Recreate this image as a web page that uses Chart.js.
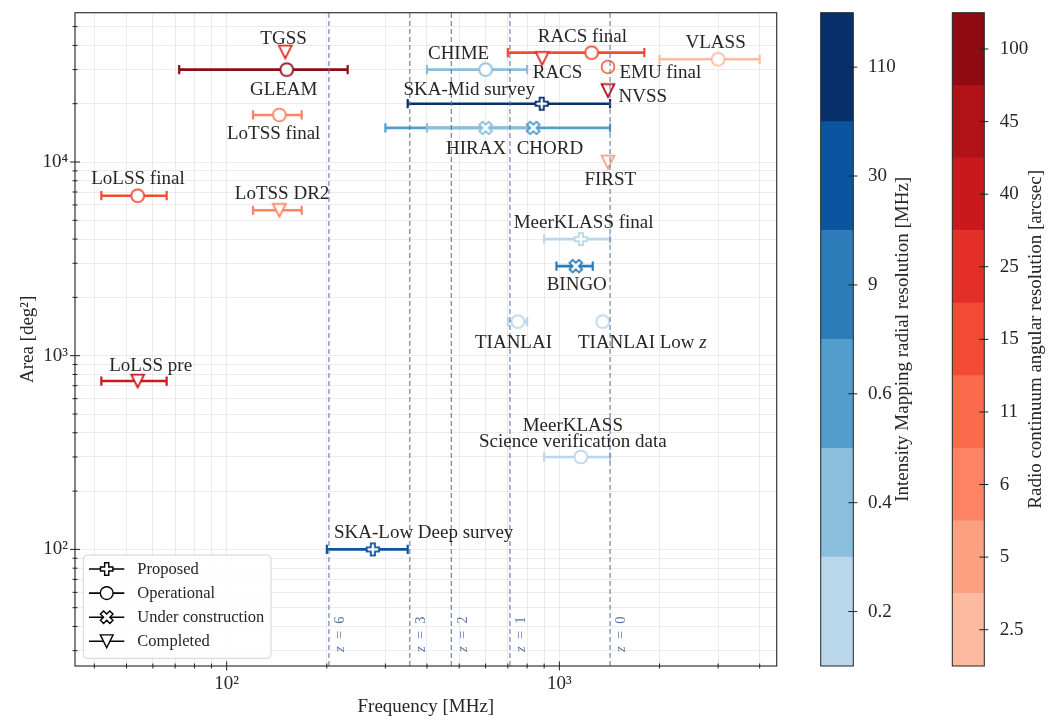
<!DOCTYPE html>
<html>
<head>
<meta charset="utf-8">
<script src="https://cdn.jsdelivr.net/npm/chart.js@4.4.1/dist/chart.umd.min.js"></script>
<style>
  html, body { margin: 0; padding: 0; background: #fff; }
  #wrap { position: relative; width: 1049px; height: 720px; }
  canvas { position: absolute; top: 0; }
</style>
</head>
<body>
<div id="wrap">
  <canvas id="main" width="800" height="720" style="left:0"></canvas>
  <canvas id="cbIM" width="130" height="720" style="left:800px"></canvas>
  <canvas id="cbRC" width="119" height="720" style="left:930px"></canvas>
</div>
<script>
// ---- data -----------------------------------------------------------------
const surveyNames = ['GLEAM','TGSS','LoTSS final','LoTSS DR2','LoLSS final','LoLSS pre','RACS final','RACS',
  'EMU final','NVSS','FIRST','VLASS',
  'CHIME','SKA-Mid survey','HIRAX','CHORD','MeerKLASS final','BINGO','TIANLAI','TIANLAI Low *z*',
  'MeerKLASS\nScience verification data','SKA-Low Deep survey'];
const freqMid  = [151.5, 150, 144, 144, 54, 54, 1250, 887.5, 1400, 1400, 1400, 3000,
  600, 885, 600, 835, 1160, 1120, 750, 1350, 1160, 275];
const freqLow  = [72, null, 120, 120, 42, 42, 700, null, null, null, null, 2000,
  400, 350, 400, 300, 900, 980, 700, null, 900, 200];
const freqHigh = [231, null, 168, 168, 66, 66, 1800, null, null, null, null, 4000,
  800, 1420, 800, 1420, 1420, 1260, 800, null, 1420, 350];
const areaDeg2 = [30000, 37000, 17500, 5634, 6700, 740, 36700, 34240, 31000, 23400, 10000, 33900,
  30000, 20000, 15000, 15000, 4000, 2900, 1500, 1500, 300, 100];
const surveyStatus = ['operational','completed','operational','completed','operational','completed','operational','completed',
  'operational','completed','completed','operational',
  'operational','proposed','construction','construction','proposed','construction','operational','operational',
  'operational','proposed'];
const surveyKind = ['rc','rc','rc','rc','rc','rc','rc','rc','rc','rc','rc','rc',
  'im','im','im','im','im','im','im','im','im','im'];
const surveyRes = ['100','25','6','6','15','40','15','25','11','45','5','2.5',
  '0.4','110','0.4','0.6','0.2','9','0.2','0.2','0.2','30'];

// redshift guide lines (21cm line)
const zRedshift = [6, 3, 2, 1, 0];
const zFreq = [202.9, 355.1, 473.5, 710.2, 1420.4];

// colour bars (bottom -> top)
const imLabels = ['0.2','0.4','0.6','9','30','110'];
const imColors = ['#bad6eb','#89bedc','#539ecd','#2c7cba','#0b55a0','#08306b'];
const rcLabels = ['2.5','5','6','11','15','25','40','45','100'];
const rcColors = ['#fcbba1','#fca082','#fc8464','#fb6a4a','#f24a35','#e32f27','#cb181d','#b11218','#8e0b13'];

// axis ticks
const xMajorTicks = [100, 1000];
const xMajorLabels = ['10\u00b2', '10\u00b3'];
const yMajorTicks = [100, 1000, 10000];
const yMajorLabels = ['10\u00b2', '10\u00b3', '10\u2074'];

const legendLabels = ['Proposed','Operational','Under construction','Completed'];
const legendShapes = ['plus','circle','x','tri'];

// ---- layout (label placement relative to marker, px) ----------------------
const labelDx = [-3, -1.7, -5.7, 2.7, 0.3, 13, -9.3, 15.4, 52.3, 34.9, 2.3, -2.5,
  -27, -72.5, -9.5, 16.6, 2.8, 1, -4.3, 39.6, -8, 50.8];
const labelDy = [25, -8.4, 24.5, -11.7, -12, -10.3, -10.6, 20, 11.6, 11.6, 23.3, -11,
  -10.7, -8.3, 26.6, 26.6, -10.7, 24, 26, 26, -10, -11];

const SERIF = "'Liberation Serif', 'Times New Roman', serif";
const TXT = '#262626';
const shapeOf = { proposed: 'plus', operational: 'circle', construction: 'x', completed: 'tri' };

function colorOf(i){
  return surveyKind[i] === 'im'
    ? imColors[imLabels.indexOf(surveyRes[i])]
    : rcColors[rcLabels.indexOf(surveyRes[i])];
}

function minorTicks(lo, hi){
  const out = [];
  for (let d = 1; d < 1e6; d *= 10)
    for (let m = 1; m < 10; m++){ const v = m * d; if (v > lo && v < hi) out.push(v); }
  return out;
}
const xTickValues = minorTicks(35, 4500);
const yTickValues = minorTicks(25, 59000);

// marker glyphs, roughly matplotlib's P, o, X, v (white face)
function shapePath(g, shape, s){
  g.beginPath();
  let pts = null;
  if (shape === 'circle') { g.arc(0, 0, s, 0, 2 * Math.PI); }
  else if (shape === 'plus') {
    const a = s / 3;
    pts = [[-a,-s],[a,-s],[a,-a],[s,-a],[s,a],[a,a],[a,s],[-a,s],[-a,a],[-s,a],[-s,-a],[-a,-a]];
  } else if (shape === 'x') {
    const u = s / 2;
    pts = [[-1,-2],[0,-1],[1,-2],[2,-1],[1,0],[2,1],[1,2],[0,1],[-1,2],[-2,1],[-1,0],[-2,-1]].map(p => [p[0]*u, p[1]*u]);
  } else if (shape === 'tri') {
    pts = [[-s,-s],[s,-s],[0,s]];
  }
  if (pts){ g.moveTo(pts[0][0], pts[0][1]); pts.slice(1).forEach(p => g.lineTo(p[0], p[1])); g.closePath(); }
}
const SIZE = { circle: 6.4, plus: 6.2, x: 6.3, tri: 6.4 };
function markerCanvas(shape, color){
  const c = document.createElement('canvas');
  c.width = c.height = 20;
  const g = c.getContext('2d');
  g.translate(10, 10);
  shapePath(g, shape, SIZE[shape]);
  g.fillStyle = '#fff'; g.fill();
  g.lineWidth = 1.8; g.strokeStyle = color; g.lineJoin = 'miter'; g.stroke();
  return c;
}

function drawRich(ctx, text, x, y, size, align){
  const parts = text.split('*');
  const fonts = parts.map((p, k) => (k % 2 ? 'italic ' : '') + size + 'px ' + SERIF);
  let w = 0;
  parts.forEach((p, k) => { ctx.font = fonts[k]; w += ctx.measureText(p).width; });
  let cx = align === 'left' ? x : x - w / 2;
  ctx.textAlign = 'left';
  parts.forEach((p, k) => { ctx.font = fonts[k]; ctx.fillText(p, cx, y); cx += ctx.measureText(p).width; });
}

const isDecade = v => Math.abs(Math.log10(v) - Math.round(Math.log10(v))) < 1e-9;

// fixed axis boxes: no label overhang padding so the plot area matches the reference
function fixBox(size){
  return s => {
    if (s.isHorizontal()) s.height = size; else s.width = size;
    s.paddingTop = 0; s.paddingBottom = 0; s.paddingLeft = 0; s.paddingRight = 0;
  };
}

// ---- main chart -----------------------------------------------------------
const datasets = [];
zFreq.forEach(f => datasets.push({
  type: 'line', data: [{x: f, y: 25}, {x: f, y: 59000}],
  borderColor: 'rgba(88,112,160,0.8)', borderWidth: 1.3, borderDash: [5, 3],
  pointRadius: 0, showLine: true, order: -1
}));
surveyNames.forEach((n, i) => {
  if (freqLow[i] == null) return;
  const col = colorOf(i);
  datasets.push({
    type: 'line', showLine: true, order: 2,
    data: [{x: freqLow[i], y: areaDeg2[i]}, {x: freqHigh[i], y: areaDeg2[i]}],
    borderColor: col, borderWidth: 2.6,
    pointStyle: 'line', pointRotation: 90, pointRadius: 4.6,
    pointBorderColor: col, pointBorderWidth: 2.2
  });
});
datasets.push({
  type: 'scatter', order: 0,
  data: surveyNames.map((n, i) => ({x: freqMid[i], y: areaDeg2[i]})),
  pointStyle: surveyNames.map((n, i) => markerCanvas(shapeOf[surveyStatus[i]], colorOf(i))),
  pointRadius: 6
});

const mainDecor = {
  id: 'mainDecor',
  afterDatasetsDraw(chart){
    const {ctx, scales: {x, y}} = chart;
    ctx.save();
    // survey labels
    ctx.fillStyle = TXT; ctx.textBaseline = 'alphabetic';
    surveyNames.forEach((n, i) => {
      const px = x.getPixelForValue(freqMid[i]) + labelDx[i];
      const py = y.getPixelForValue(areaDeg2[i]) + labelDy[i];
      const lines = n.split('\n');
      lines.forEach((ln, k) => drawRich(ctx, ln, px, py - (lines.length - 1 - k) * 16, 19, 'center'));
    });
    // redshift labels
    ctx.fillStyle = '#5b78aa'; ctx.textBaseline = 'middle';
    zFreq.forEach((f, i) => {
      ctx.save();
      ctx.translate(x.getPixelForValue(f) + 11.5, 652);
      ctx.rotate(-Math.PI / 2);
      drawRich(ctx, '*z*\u2002=\u2002' + zRedshift[i], 0, 0, 14.5, 'left');
      ctx.restore();
    });
    ctx.restore();
  },
  afterDraw(chart){
    const {ctx, chartArea: a, scales: {x, y}} = chart;
    ctx.save();
    ctx.strokeStyle = '#333'; ctx.lineWidth = 1.2;
    ctx.strokeRect(a.left, a.top, a.right - a.left, a.bottom - a.top);
    ctx.lineWidth = 1; ctx.strokeStyle = '#222';
    ctx.beginPath();
    x.ticks.forEach(t => {
      const px = x.getPixelForValue(t.value), L = isDecade(t.value) ? 4.5 : 2.5;
      ctx.moveTo(px, a.bottom - L); ctx.lineTo(px, a.bottom + L);
    });
    y.ticks.forEach(t => {
      const py = y.getPixelForValue(t.value), L = isDecade(t.value) ? 5 : 2.5;
      ctx.moveTo(a.left - L, py); ctx.lineTo(a.left + L, py);
    });
    ctx.stroke();
    // legend
    const bx = 83.3, by = 555, bw = 187.7, bh = 103.3;
    ctx.beginPath(); ctx.roundRect(bx, by, bw, bh, 4);
    ctx.fillStyle = 'rgba(255,255,255,0.85)'; ctx.fill();
    ctx.strokeStyle = '#d4d4d4'; ctx.lineWidth = 1; ctx.stroke();
    legendLabels.forEach((lab, k) => {
      const ry = 569 + k * 24.1;
      ctx.beginPath(); ctx.moveTo(89, ry); ctx.lineTo(124.3, ry);
      ctx.strokeStyle = '#000'; ctx.lineWidth = 1.6; ctx.stroke();
      ctx.save(); ctx.translate(106.7, ry);
      shapePath(ctx, legendShapes[k], SIZE[legendShapes[k]]);
      ctx.fillStyle = '#fff'; ctx.fill(); ctx.lineWidth = 1.4; ctx.strokeStyle = '#000'; ctx.stroke();
      ctx.restore();
      ctx.fillStyle = TXT; ctx.font = '16.5px ' + SERIF; ctx.textAlign = 'left'; ctx.textBaseline = 'middle';
      ctx.fillText(lab, 137.3, ry + 0.5);
    });
    ctx.restore();
  }
};

const tickFont = { family: SERIF, size: 19 };
new Chart(document.getElementById('main'), {
  type: 'scatter',
  data: { datasets },
  options: {
    responsive: false, animation: false, devicePixelRatio: 1, events: [],
    layout: { padding: { left: 0, right: 23.3, top: 12.7, bottom: 0 } },
    plugins: { legend: { display: false }, tooltip: { enabled: false } },
    scales: {
      x: {
        type: 'logarithmic', min: 35, max: 4500,
        afterBuildTicks: s => { s.ticks = xTickValues.map(v => ({ value: v })); },
        afterFit: fixBox(54),
        grid: { color: '#e6e6e6', lineWidth: 0.8, drawTicks: false },
        border: { display: false },
        ticks: { autoSkip: false, maxRotation: 0, padding: 7, color: TXT, font: tickFont,
          callback: v => { const k = xMajorTicks.indexOf(v); return k >= 0 ? xMajorLabels[k] : ''; } },
        title: { display: true, text: 'Frequency [MHz]', color: TXT, font: tickFont, padding: { top: 0, bottom: 1.6 } }
      },
      y: {
        type: 'logarithmic', min: 25, max: 59000,
        afterBuildTicks: s => { s.ticks = yTickValues.map(v => ({ value: v })); },
        afterFit: fixBox(75),
        grid: { color: '#e6e6e6', lineWidth: 0.8, drawTicks: false },
        border: { display: false },
        ticks: { autoSkip: false, padding: 7, color: TXT, font: tickFont,
          callback: v => { const k = yMajorTicks.indexOf(v); return k >= 0 ? yMajorLabels[k] : ''; } },
        title: { display: true, text: 'Area [deg\u00b2]', color: TXT, font: tickFont, padding: { top: 17, bottom: 0 } }
      }
    }
  },
  plugins: [mainDecor]
});

// ---- colour bars ----------------------------------------------------------
function cbDecor(title, titleX){
  return {
    id: 'cbDecor',
    afterDraw(chart){
      const {ctx, chartArea: a, scales: {y}} = chart;
      ctx.save();
      ctx.strokeStyle = '#222'; ctx.lineWidth = 1;
      ctx.strokeRect(a.left, a.top, a.right - a.left, a.bottom - a.top);
      ctx.beginPath();
      y.ticks.forEach(t => { const py = y.getPixelForValue(t.value); ctx.moveTo(a.right - 5, py); ctx.lineTo(a.right + 4, py); });
      ctx.stroke();
      ctx.translate(titleX, (a.top + a.bottom) / 2);
      ctx.rotate(-Math.PI / 2);
      ctx.fillStyle = TXT; ctx.font = '19px ' + SERIF; ctx.textAlign = 'center'; ctx.textBaseline = 'middle';
      ctx.fillText(title, 0, 0);
      ctx.restore();
    }
  };
}

function colorbar(id, colors, labels, padLeft, axisWidth, labelPad, title, titleX){
  return new Chart(document.getElementById(id), {
    type: 'bar',
    data: {
      labels: [''],
      datasets: colors.map(c => ({ data: [1], backgroundColor: c, borderWidth: 0,
        barPercentage: 1, categoryPercentage: 1 }))
    },
    options: {
      responsive: false, animation: false, devicePixelRatio: 1, events: [],
      layout: { padding: { left: padLeft, right: 0, top: 12.7, bottom: 54 } },
      plugins: { legend: { display: false }, tooltip: { enabled: false } },
      scales: {
        x: { stacked: true, display: false },
        y: {
          stacked: true, position: 'right', min: 0, max: colors.length,
          grid: { display: false }, border: { display: false },
          afterBuildTicks: s => { s.ticks = labels.map((l, k) => ({ value: k + 0.5 })); },
          afterFit: fixBox(axisWidth),
          ticks: { autoSkip: false, padding: labelPad, color: TXT, font: tickFont,
            callback: (v, k) => labels[k] }
        }
      }
    },
    plugins: [cbDecor(title, titleX)]
  });
}

colorbar('cbIM', imColors, imLabels, 20.7, 76.7, 6.7, 'Intensity Mapping radial resolution [MHz]', 103.5);
colorbar('cbRC', rcColors, rcLabels, 22.3, 64.7, 7.4, 'Radio continuum angular resolution [arcsec]', 106.5);
</script>
</body>
</html>
